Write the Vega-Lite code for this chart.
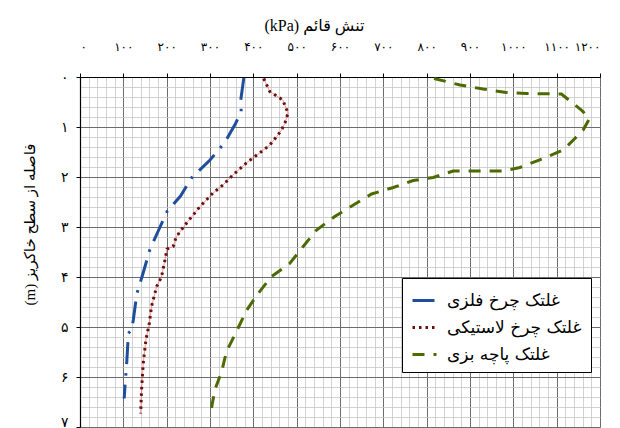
{
  "$schema": "https://vega.github.io/schema/vega-lite/v6.json",
  "width": 520,
  "height": 350,
  "autosize": {"type": "none"},
  "padding": {"left": 80, "top": 77, "right": 20, "bottom": 1},
  "background": "white",
  "config": {
    "view": {"stroke": null},
    "font": "Liberation Serif, DejaVu Sans",
    "axis": {"labelColor": "black", "titleColor": "black", "titleFontWeight": "normal"}
  },
  "data": {
    "values": [
      {"series": "غلتک چرخ فلزی", "i": 1, "stress": 378, "depth": 0.02},
      {"series": "غلتک چرخ فلزی", "i": 2, "stress": 371, "depth": 0.46},
      {"series": "غلتک چرخ فلزی", "i": 3, "stress": 372, "depth": 0.69},
      {"series": "غلتک چرخ فلزی", "i": 4, "stress": 359, "depth": 0.93},
      {"series": "غلتک چرخ فلزی", "i": 5, "stress": 334, "depth": 1.31},
      {"series": "غلتک چرخ فلزی", "i": 6, "stress": 300, "depth": 1.66},
      {"series": "غلتک چرخ فلزی", "i": 7, "stress": 274, "depth": 1.88},
      {"series": "غلتک چرخ فلزی", "i": 8, "stress": 263, "depth": 1.94},
      {"series": "غلتک چرخ فلزی", "i": 9, "stress": 232, "depth": 2.38},
      {"series": "غلتک چرخ فلزی", "i": 10, "stress": 201, "depth": 2.69},
      {"series": "غلتک چرخ فلزی", "i": 11, "stress": 180, "depth": 3.09},
      {"series": "غلتک چرخ فلزی", "i": 12, "stress": 161, "depth": 3.46},
      {"series": "غلتک چرخ فلزی", "i": 13, "stress": 145, "depth": 3.94},
      {"series": "غلتک چرخ فلزی", "i": 14, "stress": 131, "depth": 4.34},
      {"series": "غلتک چرخ فلزی", "i": 15, "stress": 123, "depth": 4.86},
      {"series": "غلتک چرخ فلزی", "i": 16, "stress": 119, "depth": 5.06},
      {"series": "غلتک چرخ فلزی", "i": 17, "stress": 111, "depth": 5.13},
      {"series": "غلتک چرخ فلزی", "i": 18, "stress": 111, "depth": 5.24},
      {"series": "غلتک چرخ فلزی", "i": 19, "stress": 108, "depth": 5.69},
      {"series": "غلتک چرخ فلزی", "i": 20, "stress": 104, "depth": 6.16},
      {"series": "غلتک چرخ فلزی", "i": 21, "stress": 102, "depth": 6.43},

      {"series": "غلتک چرخ لاستیکی", "i": 1, "stress": 424, "depth": 0.03},
      {"series": "غلتک چرخ لاستیکی", "i": 2, "stress": 438, "depth": 0.29},
      {"series": "غلتک چرخ لاستیکی", "i": 3, "stress": 468, "depth": 0.46},
      {"series": "غلتک چرخ لاستیکی", "i": 4, "stress": 480, "depth": 0.72},
      {"series": "غلتک چرخ لاستیکی", "i": 5, "stress": 473, "depth": 0.92},
      {"series": "غلتک چرخ لاستیکی", "i": 6, "stress": 465, "depth": 1.06},
      {"series": "غلتک چرخ لاستیکی", "i": 7, "stress": 454, "depth": 1.19},
      {"series": "غلتک چرخ لاستیکی", "i": 8, "stress": 438, "depth": 1.36},
      {"series": "غلتک چرخ لاستیکی", "i": 9, "stress": 419, "depth": 1.49},
      {"series": "غلتک چرخ لاستیکی", "i": 10, "stress": 399, "depth": 1.62},
      {"series": "غلتک چرخ لاستیکی", "i": 11, "stress": 384, "depth": 1.72},
      {"series": "غلتک چرخ لاستیکی", "i": 12, "stress": 353, "depth": 1.96},
      {"series": "غلتک چرخ لاستیکی", "i": 13, "stress": 330, "depth": 2.16},
      {"series": "غلتک چرخ لاستیکی", "i": 14, "stress": 307, "depth": 2.32},
      {"series": "غلتک چرخ لاستیکی", "i": 15, "stress": 277, "depth": 2.59},
      {"series": "غلتک چرخ لاستیکی", "i": 16, "stress": 246, "depth": 2.92},
      {"series": "غلتک چرخ لاستیکی", "i": 17, "stress": 222, "depth": 3.2},
      {"series": "غلتک چرخ لاستیکی", "i": 18, "stress": 215, "depth": 3.39},
      {"series": "غلتک چرخ لاستیکی", "i": 19, "stress": 201, "depth": 3.44},
      {"series": "غلتک چرخ لاستیکی", "i": 20, "stress": 196, "depth": 3.66},
      {"series": "غلتک چرخ لاستیکی", "i": 21, "stress": 188, "depth": 4.0},
      {"series": "غلتک چرخ لاستیکی", "i": 22, "stress": 177, "depth": 4.19},
      {"series": "غلتک چرخ لاستیکی", "i": 23, "stress": 165, "depth": 4.59},
      {"series": "غلتک چرخ لاستیکی", "i": 24, "stress": 160, "depth": 4.92},
      {"series": "غلتک چرخ لاستیکی", "i": 25, "stress": 152, "depth": 5.26},
      {"series": "غلتک چرخ لاستیکی", "i": 26, "stress": 146, "depth": 5.72},
      {"series": "غلتک چرخ لاستیکی", "i": 27, "stress": 142, "depth": 6.26},
      {"series": "غلتک چرخ لاستیکی", "i": 28, "stress": 140, "depth": 6.73},

      {"series": "غلتک پاچه بزی", "i": 1, "stress": 817, "depth": 0.03},
      {"series": "غلتک پاچه بزی", "i": 2, "stress": 877, "depth": 0.16},
      {"series": "غلتک پاچه بزی", "i": 3, "stress": 930, "depth": 0.24},
      {"series": "غلتک پاچه بزی", "i": 4, "stress": 984, "depth": 0.31},
      {"series": "غلتک پاچه بزی", "i": 5, "stress": 1030, "depth": 0.33},
      {"series": "غلتک پاچه بزی", "i": 6, "stress": 1111, "depth": 0.34},
      {"series": "غلتک پاچه بزی", "i": 7, "stress": 1138, "depth": 0.53},
      {"series": "غلتک پاچه بزی", "i": 8, "stress": 1157, "depth": 0.66},
      {"series": "غلتک پاچه بزی", "i": 9, "stress": 1176, "depth": 0.83},
      {"series": "غلتک پاچه بزی", "i": 10, "stress": 1161, "depth": 1.06},
      {"series": "غلتک پاچه بزی", "i": 11, "stress": 1142, "depth": 1.23},
      {"series": "غلتک پاچه بزی", "i": 12, "stress": 1115, "depth": 1.46},
      {"series": "غلتک پاچه بزی", "i": 13, "stress": 1069, "depth": 1.63},
      {"series": "غلتک پاچه بزی", "i": 14, "stress": 1015, "depth": 1.81},
      {"series": "غلتک پاچه بزی", "i": 15, "stress": 976, "depth": 1.88},
      {"series": "غلتک پاچه بزی", "i": 16, "stress": 861, "depth": 1.88},
      {"series": "غلتک پاچه بزی", "i": 17, "stress": 815, "depth": 2.01},
      {"series": "غلتک پاچه بزی", "i": 18, "stress": 769, "depth": 2.07},
      {"series": "غلتک پاچه بزی", "i": 19, "stress": 723, "depth": 2.21},
      {"series": "غلتک پاچه بزی", "i": 20, "stress": 673, "depth": 2.34},
      {"series": "غلتک پاچه بزی", "i": 21, "stress": 631, "depth": 2.56},
      {"series": "غلتک پاچه بزی", "i": 22, "stress": 588, "depth": 2.79},
      {"series": "غلتک پاچه بزی", "i": 23, "stress": 546, "depth": 3.06},
      {"series": "غلتک پاچه بزی", "i": 24, "stress": 515, "depth": 3.39},
      {"series": "غلتک پاچه بزی", "i": 25, "stress": 484, "depth": 3.73},
      {"series": "غلتک پاچه بزی", "i": 26, "stress": 442, "depth": 3.99},
      {"series": "غلتک پاچه بزی", "i": 27, "stress": 411, "depth": 4.33},
      {"series": "غلتک پاچه بزی", "i": 28, "stress": 385, "depth": 4.66},
      {"series": "غلتک پاچه بزی", "i": 29, "stress": 361, "depth": 5.09},
      {"series": "غلتک پاچه بزی", "i": 30, "stress": 338, "depth": 5.49},
      {"series": "غلتک پاچه بزی", "i": 31, "stress": 327, "depth": 5.89},
      {"series": "غلتک پاچه بزی", "i": 32, "stress": 311, "depth": 6.26},
      {"series": "غلتک پاچه بزی", "i": 33, "stress": 300, "depth": 6.79}
    ]
  },
  "layer": [
    {
      "description": "Minor grid: every 20 kPa and every 0.2 m",
      "mark": {"type": "line", "opacity": 0},
      "encoding": {
        "x": {
          "field": "stress", "type": "quantitative",
          "scale": {"domain": [0, 1200], "nice": false, "zero": false},
          "axis": {
            "orient": "bottom", "title": null, "labels": false, "ticks": false, "domain": false,
            "grid": true, "gridColor": "#c6c6c6", "gridWidth": 0.8,
            "values": [0,20,40,60,80,100,120,140,160,180,200,220,240,260,280,300,320,340,360,380,400,420,440,460,480,500,520,540,560,580,600,620,640,660,680,700,720,740,760,780,800,820,840,860,880,900,920,940,960,980,1000,1020,1040,1060,1080,1100,1120,1140,1160,1180,1200]
          }
        },
        "y": {
          "field": "depth", "type": "quantitative",
          "scale": {"domain": [0, 7], "reverse": true, "nice": false, "zero": false},
          "axis": {
            "orient": "right", "title": null, "labels": false, "ticks": false, "domain": false,
            "grid": true, "gridColor": "#c6c6c6", "gridWidth": 0.8,
            "values": [0,0.2,0.4,0.6,0.8,1,1.2,1.4,1.6,1.8,2,2.2,2.4,2.6,2.8,3,3.2,3.4,3.6,3.8,4,4.2,4.4,4.6,4.8,5,5.2,5.4,5.6,5.8,6,6.2,6.4,6.6,6.8,7]
          }
        },
        "detail": {"field": "series"},
        "order": {"field": "i"}
      }
    },
    {
      "description": "Thin red trace under the dotted rubber-wheel curve",
      "transform": [{"filter": "datum.series == 'غلتک چرخ لاستیکی'"}],
      "mark": {"type": "line", "color": "#e0504a", "strokeWidth": 0.8, "opacity": 0.7},
      "encoding": {
        "x": {"field": "stress", "type": "quantitative", "axis": null},
        "y": {"field": "depth", "type": "quantitative", "axis": null},
        "order": {"field": "i"}
      }
    },
    {
      "description": "Vertical stress profiles under the three rollers",
      "mark": {"type": "line", "strokeWidth": 3, "strokeCap": "butt"},
      "encoding": {
        "x": {
          "field": "stress", "type": "quantitative",
          "axis": {
            "orient": "top",
            "values": [0,100,200,300,400,500,600,700,800,900,1000,1100,1200],
            "format": "d",
            "labelExpr": "replace(replace(replace(replace(replace(replace(replace(replace(replace(replace(datum.label,regexp('0','g'),'۰'),regexp('1','g'),'۱'),regexp('2','g'),'۲'),regexp('3','g'),'۳'),regexp('4','g'),'۴'),regexp('5','g'),'۵'),regexp('6','g'),'۶'),regexp('7','g'),'۷'),regexp('8','g'),'۸'),regexp('9','g'),'۹')",
            "labelFont": "DejaVu Sans", "labelFontSize": 12, "labelPadding": 20,
            "grid": true, "gridColor": "#6c6c6c", "gridWidth": 1,
            "domainColor": "black", "domainWidth": 1.2, "tickColor": "black", "tickSize": 4,
            "title": "\u202bتنش قائم (kPa)\u202c", "titleFont": "Liberation Serif, DejaVu Sans", "titleFontSize": 16,
            "titleX": 234, "titleY": -52, "titleBaseline": "middle", "titleAlign": "center"
          }
        },
        "y": {
          "field": "depth", "type": "quantitative",
          "axis": {
            "orient": "left",
            "values": [0,1,2,3,4,5,6,7],
            "format": "d",
            "labelExpr": "replace(replace(replace(replace(replace(replace(replace(replace(replace(replace(datum.label,regexp('0','g'),'۰'),regexp('1','g'),'۱'),regexp('2','g'),'۲'),regexp('3','g'),'۳'),regexp('4','g'),'۴'),regexp('5','g'),'۵'),regexp('6','g'),'۶'),regexp('7','g'),'۷'),regexp('8','g'),'۸'),regexp('9','g'),'۹')",
            "labelFont": "DejaVu Sans", "labelFontSize": 14, "labelPadding": 8,
            "labelOffset": {"condition": {"test": "datum.value == 7", "value": -5}, "value": 0},
            "grid": true, "gridColor": "#6c6c6c", "gridWidth": 1,
            "domainColor": "black", "domainWidth": 1.2, "tickColor": "black", "tickSize": 4,
            "title": "\u202bفاصله از سطح خاکریز (m)\u202c", "titleFont": "Liberation Serif, DejaVu Sans", "titleFontSize": 15,
            "titleAngle": -90, "titleX": -51, "titleY": 147, "titleBaseline": "middle", "titleAlign": "center"
          }
        },
        "color": {
          "field": "series", "type": "nominal",
          "scale": {
            "domain": ["غلتک چرخ فلزی", "غلتک چرخ لاستیکی", "غلتک پاچه بزی"],
            "range": ["#1f4f9c", "#6a1010", "#4d6a00"]
          },
          "legend": {
            "title": null, "orient": "none", "legendX": 322, "legendY": 201,
            "fillColor": "white", "strokeColor": "black", "padding": 9, "cornerRadius": 0,
            "symbolType": "stroke", "symbolSize": 576, "symbolStrokeWidth": 3,
            "labelFont": "DejaVu Sans", "labelFontSize": 17, "labelColor": "black",
            "rowPadding": 5, "labelOffset": 9, "labelLimit": 300,
            "encode": {
              "symbols": {
                "update": {
                  "strokeDash": {"signal": "datum.value == 'غلتک چرخ فلزی' ? [13, 5, 2, 5] : datum.value == 'غلتک چرخ لاستیکی' ? [2.5, 3.5] : [8, 6]"}
                }
              }
            }
          }
        },
        "strokeDash": {
          "field": "series", "type": "nominal",
          "scale": {
            "domain": ["غلتک چرخ فلزی", "غلتک چرخ لاستیکی", "غلتک پاچه بزی"],
            "range": [[22, 9, 2.5, 9], [2.5, 4], [12, 9]]
          },
          "legend": {"title": null}
        },
        "order": {"field": "i"}
      }
    }
  ],
  "resolve": {"axis": {"x": "independent", "y": "independent"}}
}
